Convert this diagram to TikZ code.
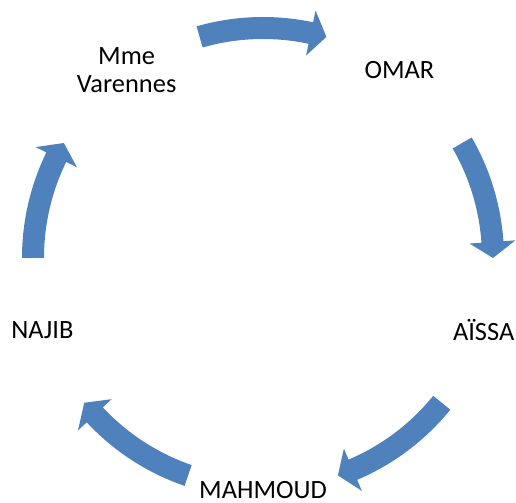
\documentclass[tikz,border=0pt]{standalone}
\usepackage{fontspec}
\setmainfont{Carlito}
\usepackage{tikz}
\definecolor{cycleblue}{RGB}{79,129,189}
\tikzstyle{person} = [text=black, font=\fontsize{19.8}{21}\selectfont, align=center,
inner sep=0pt]
\tikzstyle{arcarrow} = [fill=cycleblue, draw=none]
% curved block arrow: #1 = tail angle, #2 = tip angle (clockwise)
\newcommand{\cyclearrow}[2]{
\fill[arcarrow] (#1:241) arc[start angle=#1, end angle=#2+4, radius=241]
-- ({#2+4}:253) -- (#2:230) -- ({#2+4}:207) -- ({#2+4}:219)
arc[start angle=#2+4, end angle=#1, radius=219] -- cycle;
}

\begin{document}
\begin{tikzpicture}[x=0.75pt, y=0.75pt]
\useasboundingbox (-263,-244) rectangle (253,258);

\node(varennes)[person] at (126:232){Mme\\Varennes};
\node(omar)[person] at (54:232){OMAR};
\node(aissa)[person] at (-18:232){AÏSSA};
\node(mahmoud)[person] at (-90:232){MAHMOUD};
\node(najib)[person] at (198:232){NAJIB};

\cyclearrow{106}{74}
\cyclearrow{30}{0}
\cyclearrow{-39}{-71}
\cyclearrow{-109}{-141}
\cyclearrow{180}{150}

\end{tikzpicture}
\end{document}
